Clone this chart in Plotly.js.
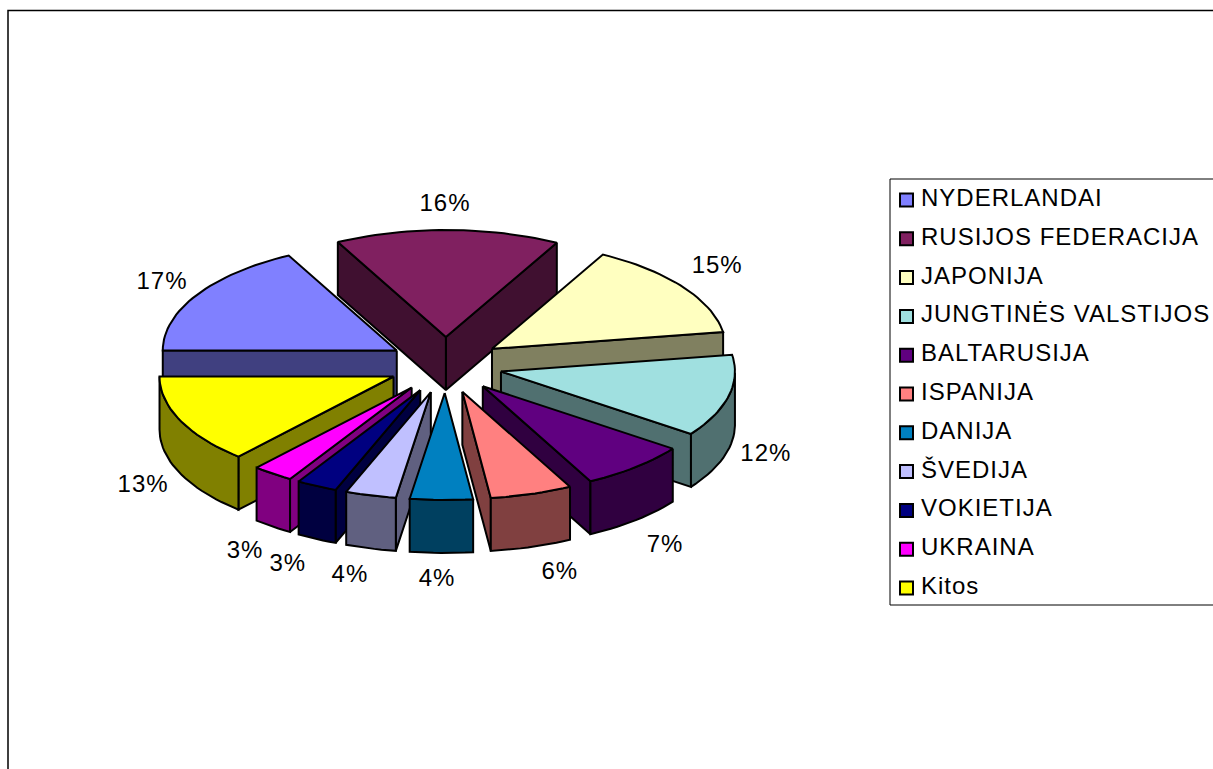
<!DOCTYPE html>
<html><head><meta charset="utf-8">
<script src="https://cdn.plot.ly/plotly-3.0.1.min.js"></script>
<style>html,body{margin:0;padding:0;background:#fff}#c{width:1213px;height:769px}#c text{letter-spacing:1px}</style>
</head><body><div id="c"></div>
<script>
// Data
const categories = ["NYDERLANDAI","RUSIJOS FEDERACIJA","JAPONIJA","JUNGTINĖS VALSTIJOS","BALTARUSIJA","ISPANIJA","DANIJA","ŠVEDIJA","VOKIETIJA","UKRAINA","Kitos"];
const shares = [17.36,15.5,14.64,12.42,7.47,5.67,4.33,3.5,2.81,2.83,13.47];
const topColors = ["#8080FF","#802060","#FFFFC0","#A0E0E0","#600080","#FF8080","#0080C0","#C0C0FF","#000080","#FF00FF","#FFFF00"];
const sideColors = ["#404080","#401030","#808060","#507070","#300040","#804040","#004060","#606080","#000040","#800080","#808000"];

// Style / projection settings (pixel-scaled axes)
const FONT = "Liberation Sans, Arial, sans-serif";
const cx = 445.5, cy = 365, rx = 234, ry = 107, depth = 53, exX = 57, exY = 28;
const startDeg = 270;
const labelNudge = [[-13.4,-6.7],[-2.7,-16],[14,-14],[13,44],[13,32],[21,19],[-4,18],[-14.3,19.8],[-18,23.4],[-13,28.5],[-14.4,40.3]];
const rad = d => d * Math.PI / 180;

const total = shares.reduce((a,b)=>a+b,0);
let cum = 0;
const slices = shares.map((v,i)=>{
  const a = startDeg + cum/total*360; cum += v;
  const b = startDeg + cum/total*360;
  const m = (a+b)/2;
  return {i,a,b,m,ox:cx+exX*Math.sin(rad(m)),oy:cy-exY*Math.cos(rad(m))};
});
const pt = (s,d,dz=0)=>[s.ox+rx*Math.sin(rad(d)), s.oy-ry*Math.cos(rad(d))+dz];
function poly(points,fill){
  return {type:'scatter',mode:'lines',x:points.map(p=>p[0]),y:points.map(p=>p[1]),fill:'toself',fillcolor:fill,
    line:{color:'#000',width:2,shape:'linear'},hoverinfo:'skip',showlegend:false};
}
const traces=[];
[...slices].sort((p,q)=>Math.cos(rad(q.m))-Math.cos(rad(p.m))).forEach(s=>{
  const side=sideColors[s.i];
  const steps=[]; const n=Math.max(6,Math.ceil((s.b-s.a)/2));
  for(let k=0;k<=n;k++) steps.push(s.a+(s.b-s.a)*k/n);
  const apex=[s.ox,s.oy], apexB=[s.ox,s.oy+depth];
  // radial walls
  if(Math.sin(rad(s.b))>0) traces.push(poly([apex,pt(s,s.b),pt(s,s.b,depth),apexB,apex],side));
  if(Math.sin(rad(s.a))<0) traces.push(poly([apex,pt(s,s.a),pt(s,s.a,depth),apexB,apex],side));
  // outer curved wall, the part facing the viewer
  const front=steps.filter(d=>Math.cos(rad(d))<=0);
  if(front.length>1){
    const up=front.map(d=>pt(s,d)), dn=front.slice().reverse().map(d=>pt(s,d,depth));
    traces.push(poly([...up,...dn,up[0]],side));
  }
  // top face
  traces.push(poly([apex,...steps.map(d=>pt(s,d)),apex],topColors[s.i]));
});

// Percent labels
const lx=[],ly=[];
slices.forEach(s=>{
  const c=Math.cos(rad(s.m));
  lx.push(cx+rx*1.35*Math.sin(rad(s.m))+labelNudge[s.i][0]);
  ly.push(cy-ry*1.35*c+depth*Math.max(0,-c)+labelNudge[s.i][1]);
});
traces.push({type:'scatter',mode:'text',x:lx,y:ly,text:shares.map(v=>Math.round(v)+'%'),textposition:'middle center',
  textfont:{family:FONT,size:24,color:'#000'},hoverinfo:'skip',showlegend:false,cliponaxis:false});

// Legend
const legTop=200, legStep=38.8;
const legY=categories.map((_,i)=>legTop+i*legStep);
traces.push({type:'scatter',mode:'markers',x:categories.map(()=>906.5),y:legY,
  marker:{symbol:'square',size:13,color:topColors,line:{color:'#000',width:2}},hoverinfo:'skip',showlegend:false});
traces.push({type:'scatter',mode:'text',x:categories.map(()=>921),y:legY,text:categories,textposition:'middle right',
  textfont:{family:FONT,size:24,color:'#000'},hoverinfo:'skip',showlegend:false,cliponaxis:false});

const hidden={visible:false,fixedrange:true};
Plotly.newPlot('c',traces,{
  width:1213,height:769,margin:{l:0,r:0,t:0,b:0},paper_bgcolor:'#fff',plot_bgcolor:'#fff',
  showlegend:false,
  xaxis:{...hidden,range:[0,1213]},
  yaxis:{...hidden,range:[769,0]},
  shapes:[
    {type:'rect',xref:'x',yref:'y',x0:8,y0:10.5,x1:1400,y1:1000,line:{color:'#000',width:1.5},layer:'below'},
    {type:'rect',xref:'x',yref:'y',x0:890,y0:179,x1:1400,y1:605,line:{color:'#000',width:1},fillcolor:'#fff',layer:'below'}
  ]
},{displayModeBar:false,staticPlot:true});
</script></body></html>
